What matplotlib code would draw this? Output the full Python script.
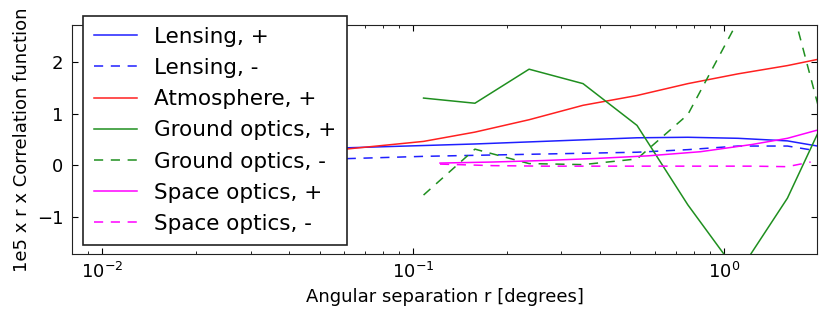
import matplotlib
matplotlib.use("Agg")
import matplotlib.pyplot as plt

# separation grids [degrees]
r_lens = [0.0107, 0.0157, 0.023, 0.034, 0.050, 0.0735, 0.108, 0.158, 0.236, 0.352, 0.525, 0.765, 1.11, 1.60, 2.0]
r_lens_neg = [0.0107, 0.0157, 0.023, 0.034, 0.050, 0.0735, 0.108, 0.158, 0.236, 0.352, 0.525, 0.765, 1.11, 1.60, 1.93]
r_ground = [0.108, 0.158, 0.236, 0.352, 0.525, 0.765, 1.11, 1.60, 2.35]
r_space = [0.122, 0.18, 0.265, 0.39, 0.57, 0.84, 1.23, 1.60, 2.0]
r_space_neg = [0.122, 0.18, 0.265, 0.39, 0.57, 0.84, 1.23, 1.60, 1.90]

# 1e5 x r x correlation function
lens_pos = [0.22, 0.25, 0.28, 0.30, 0.32, 0.35, 0.38, 0.41, 0.45, 0.49, 0.53, 0.54, 0.52, 0.47, 0.37]
lens_neg = [0.02, 0.04, 0.06, 0.08, 0.11, 0.14, 0.17, 0.19, 0.21, 0.23, 0.25, 0.30, 0.37, 0.37, 0.29]
atmos_pos = [0.08, 0.10, 0.13, 0.18, 0.26, 0.36, 0.46, 0.64, 0.88, 1.16, 1.35, 1.58, 1.77, 1.93, 2.05]
ground_pos = [1.30, 1.20, 1.86, 1.58, 0.77, -0.77, -2.10, -0.64, 1.51]
ground_neg = [-0.58, 0.31, 0.03, 0.01, 0.12, 0.98, 2.80, 3.40, -0.40]
space_pos = [0.04, 0.06, 0.09, 0.13, 0.18, 0.26, 0.40, 0.52, 0.68]
space_neg = [0.02, -0.01, -0.02, -0.02, -0.02, -0.02, -0.02, -0.03, 0.06]

plt.rcParams['font.size'] = 13
plt.rcParams['xtick.direction'] = 'in'
plt.rcParams['ytick.direction'] = 'in'
plt.rcParams['xtick.top'] = True
plt.rcParams['ytick.right'] = True
plt.rcParams['xtick.major.size'] = 4
plt.rcParams['xtick.minor.size'] = 2
plt.rcParams['ytick.major.size'] = 4
plt.rcParams['xtick.major.pad'] = 6
plt.rcParams['ytick.major.pad'] = 6
plt.rcParams['axes.edgecolor'] = '#222222'
plt.rcParams['lines.dashed_pattern'] = [6, 5]

blue = '#1f1fff'
red = '#ff2020'
green = '#1f8f1f'
magenta = '#ff00ff'

fig = plt.figure(figsize=(8.31, 3.25), dpi=100)
ax = fig.add_axes([0.0863, 0.2185, 0.8972, 0.7046])

ax.plot(r_lens, lens_pos, color=blue, lw=1.1, label='Lensing, +')
ax.plot(r_lens_neg, lens_neg, color=blue, lw=1.1, ls='--', label='Lensing, -')
ax.plot(r_lens, atmos_pos, color=red, lw=1.1, label='Atmosphere, +')
ax.plot(r_ground, ground_pos, color=green, lw=1.1, label='Ground optics, +')
ax.plot(r_ground, ground_neg, color=green, lw=1.1, ls='--', label='Ground optics, -')
ax.plot(r_space, space_pos, color=magenta, lw=1.1, label='Space optics, +')
ax.plot(r_space_neg, space_neg, color=magenta, lw=1.1, ls='--', label='Space optics, -')

ax.set_xscale('log')
ax.set_xlim(0.00797, 1.996)
ax.set_ylim(-1.723, 2.717)
ax.set_yticks([-1, 0, 1, 2])
ax.set_xlabel('Angular separation r [degrees]')
ax.set_ylabel('1e5 x r x Correlation function')

leg = ax.legend(loc='upper left', bbox_to_anchor=(83 / 831, 1 - 16 / 325),
                bbox_transform=fig.transFigure, borderaxespad=0,
                fontsize=15.5, fancybox=False, framealpha=1,
                edgecolor='#222222', labelspacing=0.52, handlelength=2.0,
                handletextpad=0.8, borderpad=0.5)
leg.get_frame().set_linewidth(1.2)

fig.savefig('out.png', dpi=100, facecolor='white')
